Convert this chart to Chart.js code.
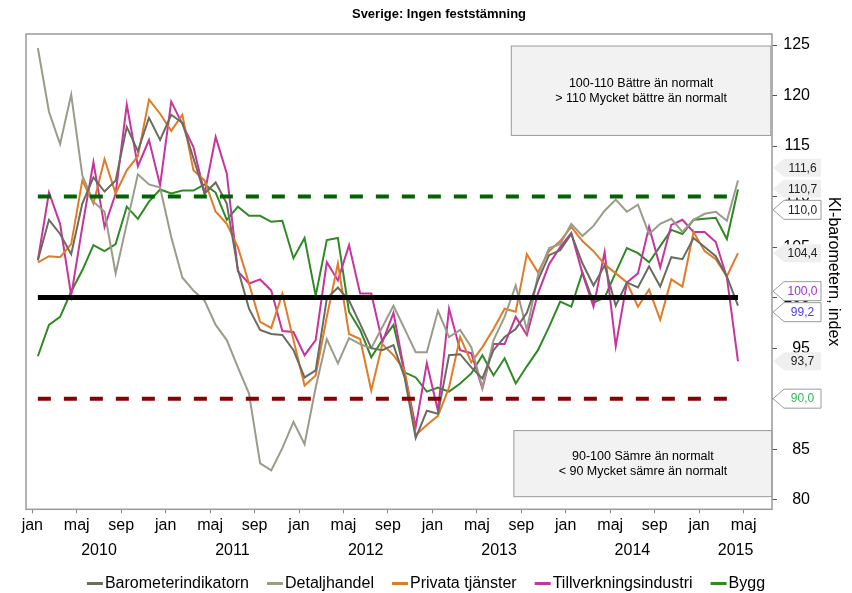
<!DOCTYPE html>
<html>
<head>
<meta charset="utf-8">
<script src="https://cdn.jsdelivr.net/npm/chart.js@4"></script>
<style>
html, body { margin: 0; padding: 0; background: #fff; }
#wrap { width: 852px; height: 593px; }
</style>
</head>
<body>
<div id="wrap"><canvas id="chart"></canvas></div>
<script>
// KI-barometern, jan 2010 - apr 2015 (ett värde per månad)
const monthTickNames = ['jan', 'maj', 'sep']
const yearLabels = ['2010', '2011', '2012', '2013', '2014', '2015']
const yTickValues = [80, 85, 90, 95, 100, 105, 110, 115, 120, 125]

const seriesNames = ['Barometerindikatorn', 'Detaljhandel', 'Privata tjänster', 'Tillverkningsindustri', 'Bygg']

const barometer = [
    103.7, 107.7, 106.3, 104.3, 109.3, 111.9, 110.5, 111.6, 116.9, 114.5, 117.8, 115.6,
    118.1, 117.3, 113.8, 110.3, 111.4, 109.3, 102.8, 98.9, 96.8, 96.4, 96.3, 94.8,
    92.1, 92.8, 99.9, 101.0, 99.7, 97.4, 95.0, 94.8, 95.3, 92.1, 86.1, 88.8,
    88.5, 94.3, 94.4, 93.1, 92.0, 94.8, 96.1, 96.9, 98.5, 101.7, 104.2, 104.7,
    106.3, 103.4, 101.2, 103.2, 99.2, 101.5, 101.0, 103.1, 101.1, 104.0, 103.8, 105.9,
    105.0, 104.1, 102.1, 99.2
]
const detaljhandel = [
    124.7, 118.4, 115.2, 120.1, 112.1, 109.5, 108.5, 102.4, 107.3, 112.2, 111.2, 110.9,
    106.0, 102.0, 100.7, 99.7, 97.3, 95.8, 93.1, 90.5, 83.6, 82.9, 85.1, 87.7,
    85.5, 91.1, 95.9, 93.5, 96.0, 95.4, 95.0, 97.1, 99.2, 96.9, 94.6, 94.6,
    98.7, 96.1, 96.8, 95.1, 91.1, 95.8, 98.1, 101.2, 96.8, 102.2, 104.9, 105.3,
    107.3, 106.1, 107.1, 108.6, 109.7, 108.5, 109.2, 106.3, 107.3, 107.8, 106.5, 107.7,
    108.3, 108.5, 107.6, 111.6
]
const privata = [
    103.5, 104.1, 104.0, 105.3, 111.6, 109.3, 113.7, 110.3, 112.6, 114.0, 119.6, 118.2,
    116.5, 118.1, 112.6, 111.6, 108.5, 107.3, 105.0, 101.4, 97.6, 97.0, 100.4, 95.8,
    91.3, 92.3, 98.1, 103.4, 96.4, 95.9, 90.8, 95.4, 94.3, 92.8, 86.4, 87.4,
    88.3, 91.1, 96.1, 93.6, 95.1, 96.9, 98.9, 98.6, 104.3, 102.5, 104.6, 105.6,
    107.0, 105.6, 104.6, 103.3, 102.4, 101.5, 99.1, 100.8, 97.8, 101.8, 101.1, 106.5,
    104.6, 103.8, 102.1, 104.4
]
const tillverkning = [
    103.7, 110.4, 107.3, 100.2, 107.0, 113.4, 107.0, 110.3, 119.1, 113.0, 115.6, 111.1,
    119.4, 117.2, 114.9, 110.3, 115.9, 112.3, 102.6, 101.4, 101.8, 100.7, 96.7, 96.6,
    94.3, 95.8, 103.5, 101.7, 105.2, 100.4, 100.4, 95.6, 98.5, 92.6, 87.2, 93.5,
    88.8, 98.9, 94.8, 94.5, 91.0, 95.4, 95.4, 98.1, 96.3, 100.4, 103.3, 105.0,
    106.4, 102.4, 99.1, 104.5, 95.2, 101.5, 102.4, 107.0, 103.0, 107.2, 107.7, 106.5,
    106.5, 105.5, 102.0, 93.7
]
const bygg = [
    94.2, 97.3, 98.1, 100.6, 102.7, 105.2, 104.6, 105.3, 109.0, 107.8, 109.5, 110.7,
    110.3, 110.6, 110.6, 111.2, 110.4, 107.7, 109.0, 108.1, 108.1, 107.5, 107.6, 103.9,
    105.9, 100.2, 105.7, 105.9, 98.6, 96.8, 94.1, 95.8, 97.3, 92.6, 92.1, 90.7,
    91.1, 90.7, 91.5, 92.5, 94.3, 92.3, 94.0, 91.5, 93.2, 94.8, 97.1, 99.6,
    99.1, 102.5, 99.5, 100.0, 102.5, 104.9, 104.4, 103.5, 105.1, 106.7, 106.3, 107.7,
    107.8, 107.9, 105.8, 110.7
]
const seriesValues = [barometer, detaljhandel, privata, tillverkning, bygg]

const referenceLevels = [110, 100, 90]

const noteTexts = [
    ['100-110 Bättre än normalt', '> 110 Mycket bättre än normalt'],
    ['90-100 Sämre än normalt', '< 90 Mycket sämre än normalt']
]

// ---- utseende ----
const FONT = '"Liberation Sans", Arial, sans-serif'
const seriesColors = ['#6b6b62', '#9b9b8a', '#e07b26', '#c8349e', '#2f8a25']
const refColors = ['#006400', '#000000', '#8b0000']
const refWidths = [4, 5, 4]
const refDashes = [[13, 13], [], [13, 13]]
const seriesCallout = [
    { boxed: true, color: '#4a3de0' },
    { boxed: false, color: '#222' },
    { boxed: false, color: '#222' },
    { boxed: false, color: '#222' },
    { boxed: false, color: '#222' }
]
const refCallout = [
    { boxed: true, color: '#222' },
    { boxed: true, color: '#9b30d0' },
    { boxed: true, color: '#2dbb55' }
]
// annoteringsrutor i axelenheter
const noteBoxes = [
    { x: [43.1, 66.45], y: [116.05, 124.9] },
    { x: [43.33, 66.56], y: [80.3, 86.84] }
]

const xMin = -0.567
const xMax = 66.56
const yMin = 79.05
const yMax = 126.09
const nMonths = barometer.length

const monthTicks = []
for (let m = 0; m <= xMax; m += 4) monthTicks.push(m)
const yearTicks = yearLabels.map((y, j) => (Math.max(j * 12, xMin) + Math.min(j * 12 + 12, xMax)) / 2)

const fmt = v => v.toFixed(1).replace('.', ',')

const datasets = seriesNames.map((name, k) => ({
    label: name,
    data: seriesValues[k].map((v, i) => ({ x: i + 0.5, y: v })),
    borderColor: seriesColors[k],
    borderWidth: 2,
    pointRadius: 0,
    tension: 0,
    order: 0
}))
referenceLevels.forEach((lvl, k) => datasets.push({
    label: 'ref' + lvl,
    isReference: true,
    data: [{ x: 0.5, y: lvl }, { x: nMonths - 0.5, y: lvl }],
    borderColor: refColors[k],
    borderWidth: refWidths[k],
    borderDash: refDashes[k],
    pointRadius: 0,
    order: -1
}))

const notesPlugin = {
    id: 'notes',
    beforeDatasetsDraw(chart) {
        const { ctx, scales } = chart
        ctx.save()
        noteBoxes.forEach((b, k) => {
            const x1 = scales.x.getPixelForValue(b.x[0]), x2 = scales.x.getPixelForValue(b.x[1])
            const y1 = scales.y.getPixelForValue(b.y[1]), y2 = scales.y.getPixelForValue(b.y[0])
            ctx.fillStyle = '#f2f2f2'
            ctx.fillRect(x1, y1, x2 - x1, y2 - y1)
            ctx.strokeStyle = '#9a9a9a'
            ctx.lineWidth = 1
            ctx.strokeRect(x1, y1, x2 - x1, y2 - y1)
            ctx.fillStyle = '#000'
            ctx.font = '12.5px ' + FONT
            ctx.textAlign = 'center'
            ctx.textBaseline = 'middle'
            const lines = noteTexts[k]
            const cy = (y1 + y2) / 2
            lines.forEach((t, j) => ctx.fillText(t, (x1 + x2) / 2, cy + (j - (lines.length - 1) / 2) * 15))
        })
        ctx.restore()
    },
    afterDatasetsDraw(chart) {
        const { ctx, chartArea: a } = chart
        ctx.save()
        ctx.strokeStyle = '#9a9a9a'
        ctx.lineWidth = 1.5
        ctx.strokeRect(a.left, a.top, a.right - a.left, a.bottom - a.top)
        ctx.restore()
    }
}

function spreadLabels(items, gap) {
    items.sort((a, b) => a.y0 - b.y0)
    let groups = items.map(it => ({ members: [it], center: it.y0 }))
    let merged = true
    while (merged) {
        merged = false
        for (let i = 0; i < groups.length - 1; i++) {
            const a = groups[i], b = groups[i + 1]
            const aBottom = a.center + (a.members.length - 1) * gap / 2
            const bTop = b.center - (b.members.length - 1) * gap / 2
            if (bTop - aBottom < gap) {
                const members = a.members.concat(b.members)
                const center = members.reduce((s, m) => s + m.y0, 0) / members.length
                groups.splice(i, 2, { members, center })
                merged = true
                break
            }
        }
    }
    groups.forEach(g => g.members.forEach((m, j) => {
        m.y = g.center + (j - (g.members.length - 1) / 2) * gap
    }))
}

const calloutPlugin = {
    id: 'callouts',
    afterDraw(chart) {
        const { ctx, scales, chartArea } = chart
        const items = seriesValues.map((vals, k) => Object.assign({ value: vals[vals.length - 1] }, seriesCallout[k]))
        referenceLevels.forEach((lvl, k) => items.push(Object.assign({ value: lvl }, refCallout[k])))
        items.forEach(it => { it.y0 = scales.y.getPixelForValue(it.value) })
        spreadLabels(items, 21)
        const tipX = chartArea.right + 1, boxL = chartArea.right + 12, boxR = chartArea.right + 49
        ctx.save()
        items.forEach(it => {
            const h = it.boxed ? 19 : 18
            ctx.beginPath()
            ctx.moveTo(tipX, it.y)
            ctx.lineTo(boxL, it.y - h / 2)
            ctx.lineTo(boxR, it.y - h / 2)
            ctx.lineTo(boxR, it.y + h / 2)
            ctx.lineTo(boxL, it.y + h / 2)
            ctx.closePath()
            if (it.boxed) {
                ctx.fillStyle = '#fff'
                ctx.fill()
                ctx.strokeStyle = '#9a9a9a'
                ctx.lineWidth = 1
                ctx.stroke()
            } else {
                ctx.fillStyle = '#efefef'
                ctx.fill()
            }
            ctx.fillStyle = it.color
            ctx.font = '12px ' + FONT
            ctx.textAlign = 'center'
            ctx.textBaseline = 'middle'
            ctx.fillText(fmt(it.value), (boxL + boxR) / 2, it.y + 0.5)
        })
        ctx.restore()
    }
}

const legendPlugin = {
    id: 'seriesLegend',
    afterDraw(chart) {
        const ctx = chart.ctx
        const items = chart.data.datasets.filter(d => !d.isReference)
        ctx.save()
        ctx.font = '16px ' + FONT
        const widths = items.map(d => 18 + ctx.measureText(d.label).width)
        const total = widths.reduce((a, b) => a + b, 0) + 18 * (items.length - 1)
        let x = chart.width / 2 - total / 2
        const y = chart.height - 9.5
        items.forEach((d, k) => {
            ctx.strokeStyle = d.borderColor
            ctx.lineWidth = 3
            ctx.beginPath()
            ctx.moveTo(x, y)
            ctx.lineTo(x + 16, y)
            ctx.stroke()
            ctx.fillStyle = '#000'
            ctx.textAlign = 'left'
            ctx.textBaseline = 'middle'
            ctx.fillText(d.label, x + 18, y + 0.5)
            x += widths[k] + 18
        })
        ctx.restore()
    }
}

Chart.defaults.font.family = FONT
Chart.defaults.color = '#000'

new Chart(document.getElementById('chart'), {
    type: 'line',
    data: { datasets: datasets },
    plugins: [notesPlugin, calloutPlugin, legendPlugin],
    options: {
        responsive: true,
        maintainAspectRatio: false,
        devicePixelRatio: 1,
        animation: false,
        events: [],
        layout: { padding: { left: 26, right: 0, top: 0, bottom: 0 } },
        plugins: {
            legend: { display: false },
            tooltip: { enabled: false },
            title: {
                display: true,
                text: 'Sverige: Ingen feststämning',
                color: '#000',
                font: { size: 13, weight: 'bold' },
                padding: { top: 6.7, bottom: 11.7 }
            }
        },
        scales: {
            x: {
                type: 'linear',
                position: 'bottom',
                min: xMin,
                max: xMax,
                weight: 0,
                afterBuildTicks: s => { s.ticks = monthTicks.map(v => ({ value: v })) },
                afterFit: s => { s.height = 28 },
                ticks: {
                    autoSkip: false,
                    maxRotation: 0,
                    padding: 3,
                    font: { size: 16 },
                    color: '#000',
                    callback: v => monthTickNames[(v / 4) % 3]
                },
                grid: { drawOnChartArea: false, drawTicks: true, tickLength: 4, color: '#888' },
                border: { display: false }
            },
            xYear: {
                type: 'linear',
                position: 'bottom',
                min: xMin,
                max: xMax,
                weight: 1,
                afterBuildTicks: s => { s.ticks = yearTicks.map(v => ({ value: v })) },
                afterFit: s => { s.height = 55.7 },
                ticks: {
                    autoSkip: false,
                    maxRotation: 0,
                    padding: -3.9,
                    font: { size: 16 },
                    color: '#000',
                    callback: (v, i) => yearLabels[i]
                },
                grid: { display: false },
                border: { display: false }
            },
            y: {
                type: 'linear',
                position: 'right',
                min: yMin,
                max: yMax,
                weight: 0,
                afterBuildTicks: s => { s.ticks = yTickValues.map(v => ({ value: v })) },
                afterFit: s => { s.width = 38 },
                ticks: {
                    crossAlign: 'far',
                    padding: 6,
                    font: { size: 16 },
                    color: '#000'
                },
                grid: { drawOnChartArea: false, drawTicks: true, tickLength: 5, color: '#555' },
                border: { display: false }
            },
            yTitle: {
                type: 'linear',
                position: 'right',
                min: yMin,
                max: yMax,
                weight: 1,
                afterFit: s => { s.width = 42 },
                ticks: { display: false },
                grid: { display: false },
                border: { display: false },
                title: {
                    display: true,
                    text: 'KI-barometern, index',
                    color: '#000',
                    font: { size: 16 },
                    padding: { top: 9.4, bottom: 9.4 }
                }
            }
        }
    }
})
</script>
</body>
</html>
